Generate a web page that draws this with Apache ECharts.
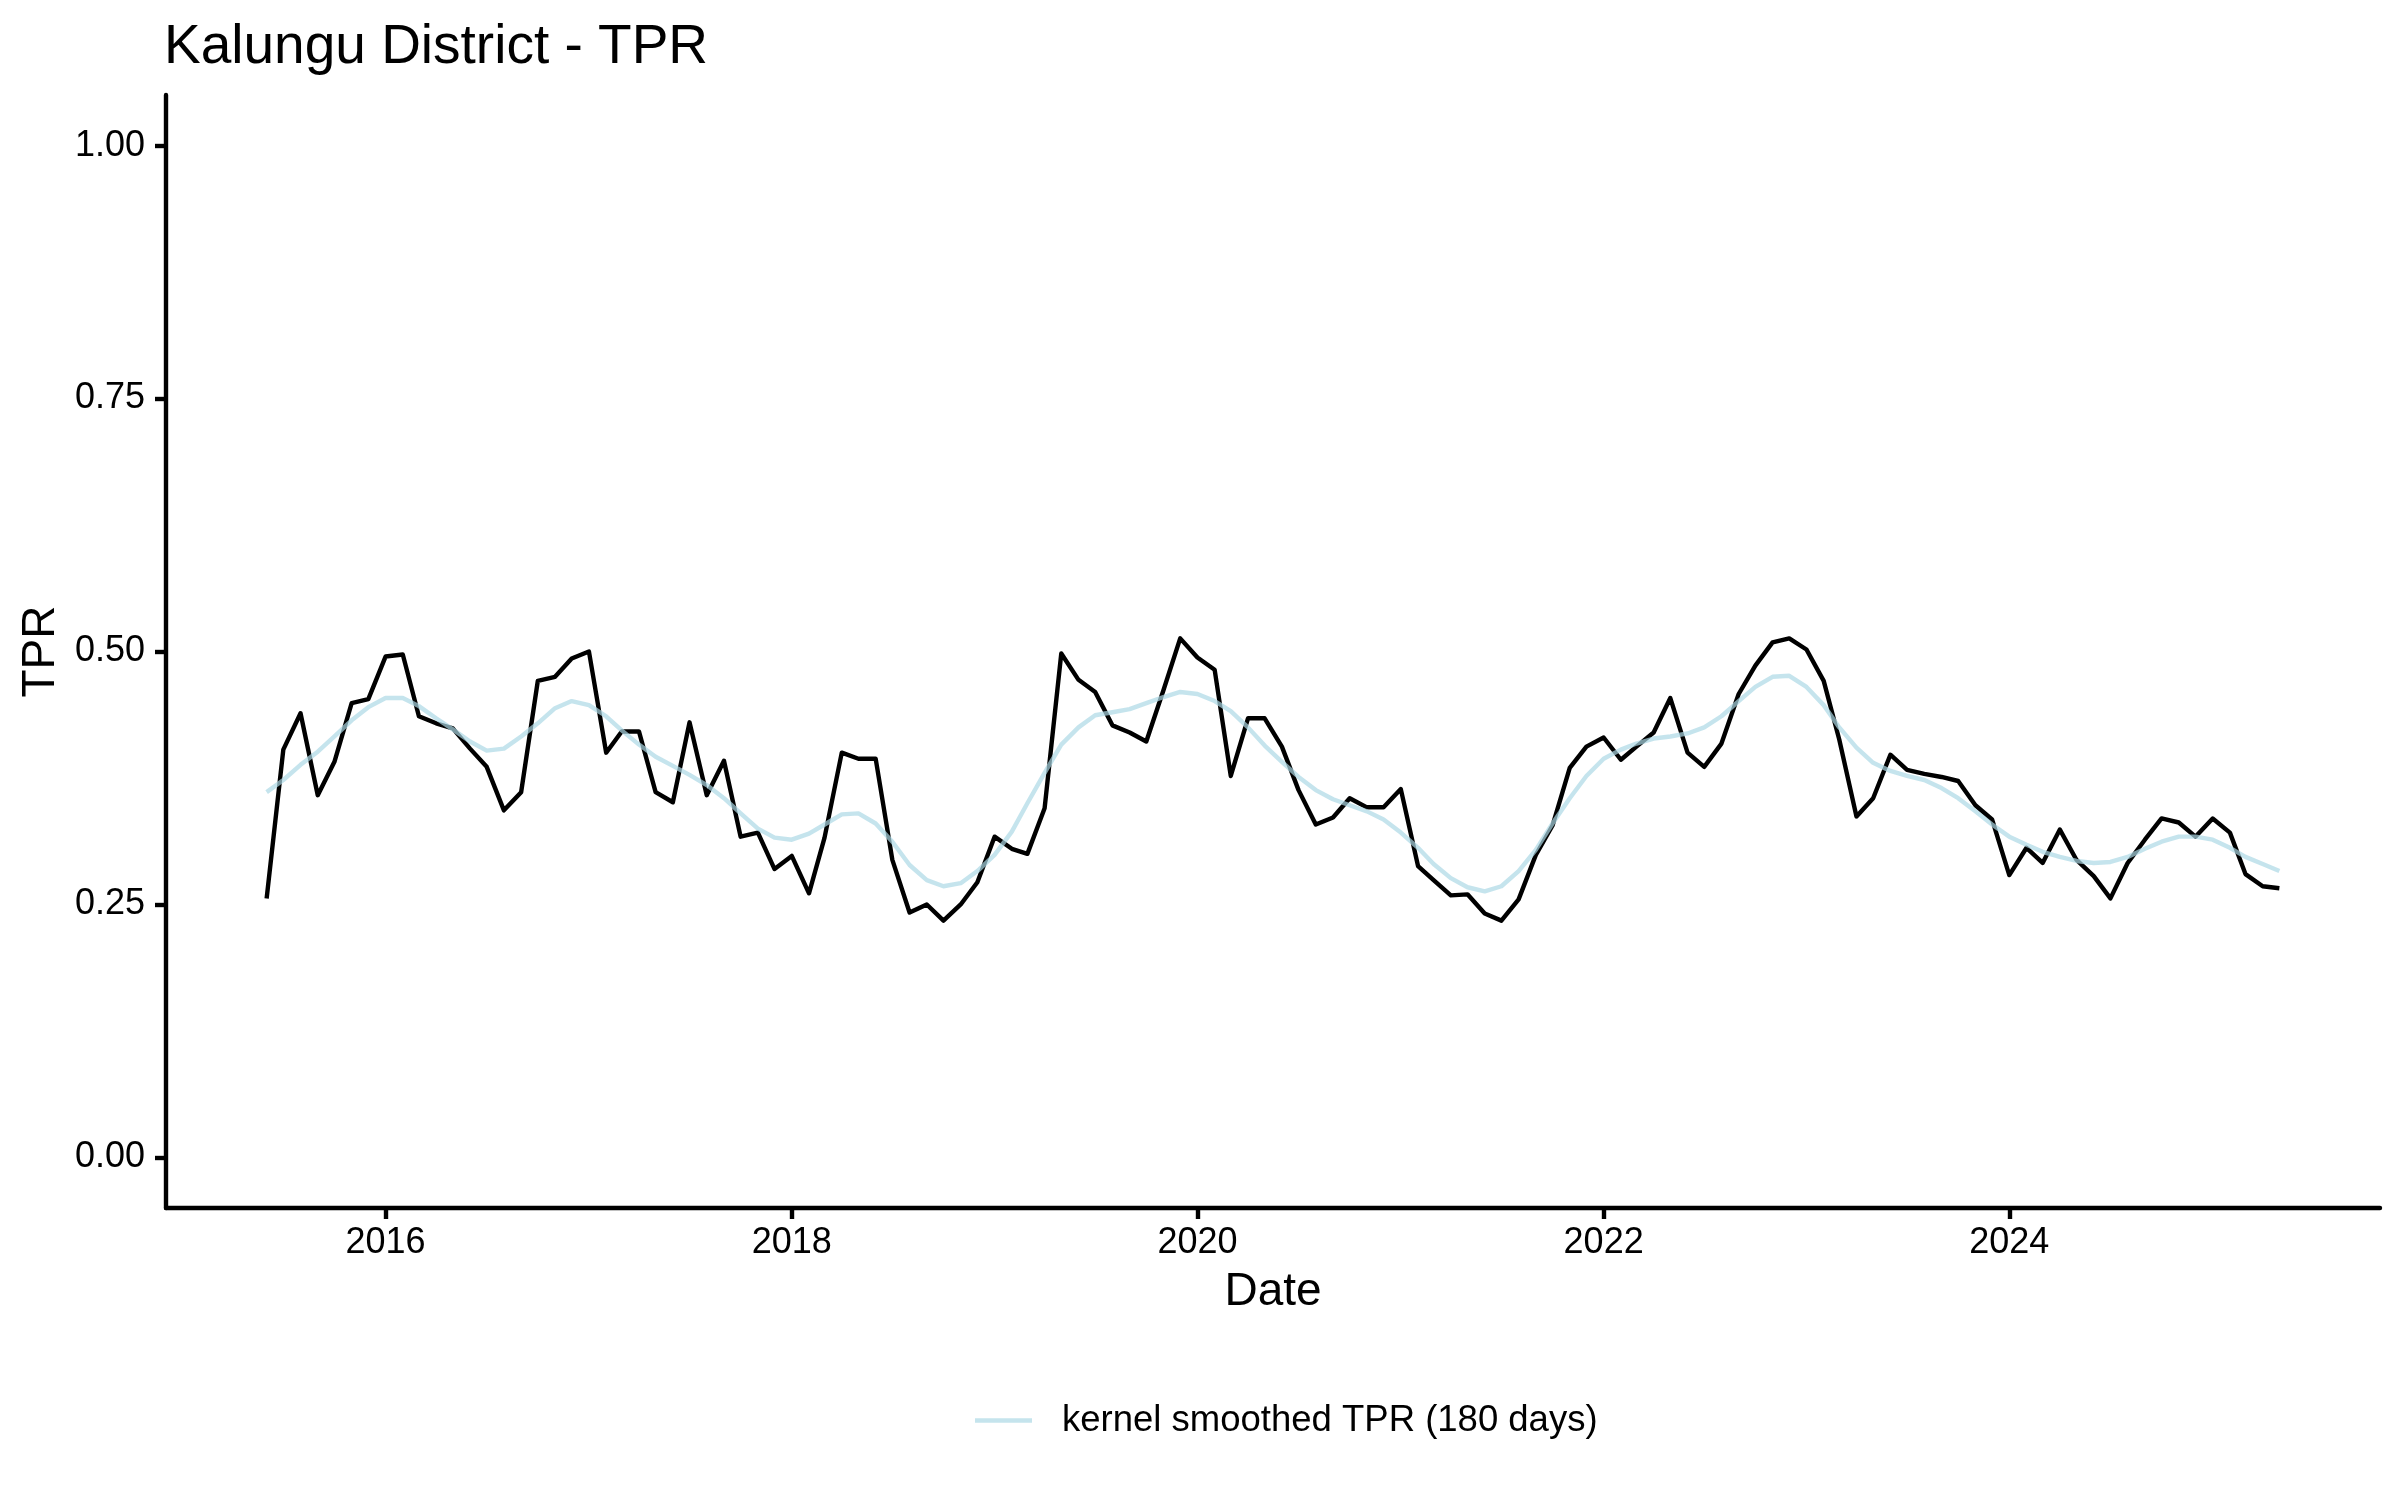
<!DOCTYPE html>
<html>
<head>
<meta charset="utf-8">
<script src="https://cdn.jsdelivr.net/npm/echarts@6/dist/echarts.min.js"></script>
<style>
html,body{margin:0;padding:0;background:#fff;}
#chart{width:2400px;height:1500px;}
</style>
</head>
<body>
<div id="chart"></div>
<script>
// ---- data ----
const chartTitle = 'Kalungu District - TPR';
const startYear = 2015, startMonth = 6; // first observation: June 2015, monthly
const tprValues = [
  0.256,0.403,0.439,0.358,0.391,0.449,0.453,0.495,0.497,0.436,
  0.429,0.424,0.404,0.386,0.343,0.361,0.471,0.475,0.493,0.500,
  0.400,0.421,0.421,0.361,0.351,0.430,0.358,0.392,0.317,0.321,
  0.285,0.298,0.261,0.316,0.400,0.394,0.394,0.294,0.242,0.250,
  0.234,0.250,0.272,0.317,0.305,0.300,0.345,0.498,0.472,0.460,
  0.427,0.420,0.411,0.462,0.513,0.494,0.482,0.377,0.434,0.434,
  0.406,0.363,0.329,0.336,0.355,0.346,0.346,0.364,0.288,0.274,
  0.259,0.260,0.241,0.234,0.255,0.299,0.328,0.385,0.406,0.415,
  0.393,0.406,0.420,0.454,0.400,0.386,0.409,0.458,0.486,0.509,
  0.513,0.502,0.471,0.413,0.337,0.355,0.398,0.383,0.379,0.376,
  0.372,0.348,0.334,0.279,0.306,0.291,0.324,0.294,0.278,0.256,
  0.291,0.314,0.335,0.331,0.317,0.335,0.321,0.280,0.268,0.266
];
const smoothValues = [
  0.361,0.373,0.388,0.401,0.416,0.432,0.445,0.454,0.454,0.446,
  0.434,0.423,0.411,0.402,0.404,0.416,0.429,0.444,0.451,0.447,
  0.436,0.422,0.408,0.396,0.387,0.378,0.368,0.355,0.340,0.325,
  0.316,0.314,0.320,0.329,0.339,0.340,0.330,0.312,0.289,0.274,
  0.268,0.271,0.283,0.299,0.322,0.350,0.380,0.408,0.425,0.437,
  0.440,0.443,0.449,0.455,0.460,0.458,0.451,0.441,0.425,0.407,
  0.391,0.376,0.363,0.354,0.348,0.342,0.334,0.321,0.306,0.290,
  0.276,0.267,0.263,0.268,0.283,0.304,0.330,0.355,0.377,0.394,
  0.403,0.409,0.414,0.416,0.419,0.425,0.436,0.451,0.465,0.475,
  0.476,0.465,0.447,0.425,0.405,0.390,0.382,0.377,0.373,0.365,
  0.355,0.342,0.329,0.317,0.309,0.302,0.297,0.293,0.291,0.292,
  0.297,0.305,0.312,0.317,0.317,0.314,0.306,0.297,0.290,0.283
];
const xTickYears = [2016, 2018, 2020, 2022, 2024];
const yTickValues = [0, 0.25, 0.5, 0.75, 1.0];
const smoothName = 'kernel smoothed TPR (180 days)';

// ---- build ----
const dates = tprValues.map((_, i) => new Date(startYear, startMonth - 1 + i, 1).getTime());
const tprData = tprValues.map((v, i) => [dates[i], v]);
const smoothData = smoothValues.map((v, i) => [dates[i], v]);
const xTicks = xTickYears.map(y => new Date(y, 0, 1).getTime());
const span = dates[dates.length - 1] - dates[0];
const xMin = dates[0] - span * 0.05;
const xMax = dates[dates.length - 1] + span * 0.05;

const FONT = "'Liberation Sans', Arial, sans-serif";
const chart = echarts.init(document.getElementById('chart'), null, {renderer: 'canvas', devicePixelRatio: 1});
chart.setOption({
  animation: false,
  backgroundColor: '#ffffff',
  title: {
    text: chartTitle,
    left: 164, top: 20, padding: 0,
    textStyle: {fontFamily: FONT, fontSize: 55, fontWeight: 'normal', color: '#000'}
  },
  legend: {
    data: [smoothName],
    left: 975, top: 1402, padding: 0,
    icon: 'rect', itemWidth: 57, itemHeight: 4.4,
    textStyle: {fontFamily: FONT, fontSize: 36.5, color: '#000', padding: [0, 0, 0, 25]}
  },
  grid: {left: 166, top: 95, right: 20, bottom: 292, containLabel: false},
  xAxis: {
    type: 'value',
    min: xMin, max: xMax,
    name: 'Date', nameLocation: 'middle', nameGap: 61,
    nameTextStyle: {fontFamily: FONT, fontSize: 46, color: '#000'},
    axisLine: {show: true, onZero: false, lineStyle: {color: '#000', width: 4.4}},
    axisTick: {show: true, length: 11, lineStyle: {color: '#000', width: 4.4}, customValues: xTicks},
    axisLabel: {
      customValues: xTicks, margin: 17,
      fontFamily: FONT, fontSize: 36, color: '#000',
      formatter: v => String(new Date(v).getFullYear())
    },
    splitLine: {show: false}
  },
  yAxis: {
    type: 'value',
    min: -0.05, max: 1.05,
    name: 'TPR', nameLocation: 'middle', nameGap: 102, nameRotate: 90,
    nameTextStyle: {fontFamily: FONT, fontSize: 46, color: '#000'},
    axisLine: {show: true, onZero: false, lineStyle: {color: '#000', width: 4.4}},
    axisTick: {show: true, length: 11, lineStyle: {color: '#000', width: 4.4}, customValues: yTickValues},
    axisLabel: {
      customValues: yTickValues, margin: 21,
      fontFamily: FONT, fontSize: 36, color: '#000',
      formatter: v => Number(v).toFixed(2)
    },
    splitLine: {show: false}
  },
  series: [
    {
      name: 'TPR', type: 'line', data: tprData, showSymbol: false, silent: true,
      lineStyle: {color: '#000000', width: 4.4, join: 'round'},
      itemStyle: {color: '#000000'}, z: 2
    },
    {
      name: smoothName, type: 'line', data: smoothData, showSymbol: false, silent: true,
      lineStyle: {color: 'rgba(173,216,230,0.7)', width: 4.4, join: 'round'},
      itemStyle: {color: 'rgba(173,216,230,0.7)'}, z: 3
    }
  ]
});
</script>
</body>
</html>
